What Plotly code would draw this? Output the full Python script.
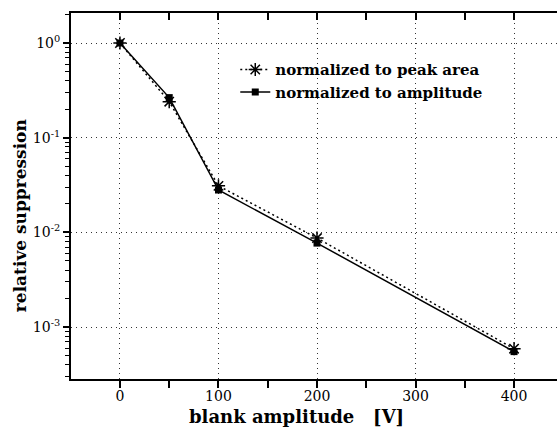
import plotly.graph_objects as go

blank_amplitude = [0, 50, 100, 200, 400]
norm_peak_area = [1.0, 0.24, 0.031, 0.0087, 0.00059]
norm_amplitude = [1.0, 0.265, 0.028, 0.0077, 0.00055]
x_tick_vals = [0, 100, 200, 300, 400]
x_tick_text = ["0", "100", "200", "300", "400"]
y_tick_vals = [1e-3, 1e-2, 1e-1, 1]
y_tick_text = ["10<sup>-3</sup>", "10<sup>-2</sup>", "10<sup>-1</sup>", "10<sup>0</sup>"]

SERIF = "DejaVu Serif, Liberation Serif, serif"
y_minor = [m * 10 ** e for e in range(-4, 1) for m in range(2, 10)]
x_tick_marks = [0, 50, 100, 150, 200, 250, 300, 350, 400]

fig = go.Figure()
fig.add_trace(go.Scatter(
    x=blank_amplitude, y=norm_peak_area, mode="lines+markers",
    name="<b>normalized to peak area</b>",
    line=dict(color="black", width=1.5, dash="2px,3px"),
    marker=dict(symbol="asterisk-open", size=11, color="black",
                line=dict(color="black", width=1.5)),
))
fig.add_trace(go.Scatter(
    x=blank_amplitude, y=norm_amplitude, mode="lines+markers",
    name="<b>normalized to amplitude</b>",
    line=dict(color="black", width=1.5),
    marker=dict(symbol="square", size=7, color="black"),
))
fig.add_trace(go.Scatter(x=[None], y=[None], xaxis="x2", showlegend=False,
                         hoverinfo="skip"))

grid_dash = "1px,4px"

fig.update_layout(
    width=557, height=428,
    margin=dict(l=71, r=0, t=13, b=49),
    paper_bgcolor="white", plot_bgcolor="white",
    font=dict(family=SERIF, color="black", size=14),
    showlegend=True,
    legend=dict(x=0.338, y=0.89, xanchor="left", yanchor="top",
                bgcolor="rgba(0,0,0,0)", font=dict(family=SERIF, size=15, color="black"),
                itemwidth=30, tracegroupgap=0),
    xaxis=dict(
        range=[-49.7, 443.6], tickvals=x_tick_vals, ticktext=x_tick_text,
        ticks="outside", ticklen=3, tickwidth=1.5, tickcolor="black",
        showline=True, linecolor="black", linewidth=2,
        showgrid=True, gridcolor="#333", griddash=grid_dash, gridwidth=1,
        zeroline=False, tickfont=dict(size=14),
        minor=dict(tickvals=x_tick_marks, ticks="outside", ticklen=7,
                   tickwidth=1.5, tickcolor="black", showgrid=False),
    ),
    xaxis2=dict(
        overlaying="x", side="top", matches="x", range=[-49.7, 443.6],
        tickvals=x_tick_marks, showticklabels=False,
        ticks="inside", ticklen=7, tickwidth=1.5, tickcolor="black",
        showline=True, linecolor="black", linewidth=2, showgrid=False,
        zeroline=False,
    ),
    yaxis=dict(
        type="log", range=[-3.549, 0.317], tickvals=y_tick_vals, ticktext=y_tick_text,
        ticks="outside", ticklen=6, tickwidth=1.5, tickcolor="black",
        showline=True, linecolor="black", linewidth=2,
        showgrid=True, gridcolor="#333", griddash=grid_dash, gridwidth=1,
        zeroline=False, tickfont=dict(size=14),
        minor=dict(tickvals=y_minor, ticks="outside", ticklen=4, tickwidth=1,
                   tickcolor="black", showgrid=False),
    ),
    annotations=[
        dict(text="<b>blank amplitude   [V]</b>", xref="paper", yref="paper",
             x=0.463, y=0, yshift=-25, xanchor="center", yanchor="top",
             showarrow=False, font=dict(family=SERIF, size=18, color="black")),
        dict(text="<b>relative suppression</b>", xref="paper", yref="paper",
             x=0, xshift=-51, y=0.445, xanchor="center", yanchor="middle",
             textangle=-90, showarrow=False,
             font=dict(family=SERIF, size=17, color="black")),
    ],
)

fig.write_html("out.html", config={"displayModeBar": False},
               post_script="document.body.style.margin='0';")
